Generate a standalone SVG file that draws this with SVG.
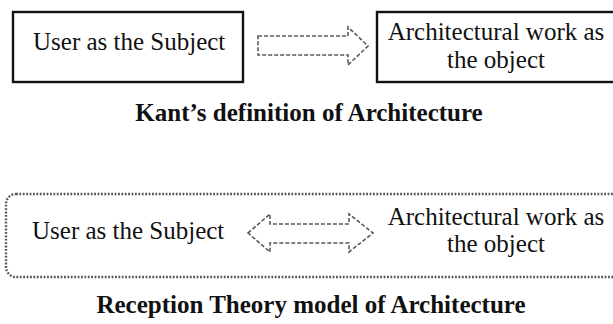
<svg xmlns="http://www.w3.org/2000/svg" width="613" height="324" viewBox="0 0 613 324">
  <style>
    text { font-family: 'Liberation Serif', 'DejaVu Serif', serif; fill: #111; }
    .lbl { font-size: 25px; }
    .mid { text-anchor: middle; }
    .ttl { font-size: 25px; font-weight: bold; text-anchor: middle; }
    .box { fill: #fff; stroke: #111; stroke-width: 2.4; }
    .dash { fill: none; stroke: #5a5a5a; stroke-width: 1.6; stroke-dasharray: 4 2; }
    .frame { fill: none; stroke: #555; stroke-width: 2.4; stroke-dasharray: 1.8 1.6; }
  </style>
  <rect width="613" height="324" fill="#fff"/>

  <!-- Upper model: subject acts on object -->
  <g id="kant-subject">
    <rect class="box" x="13" y="12" width="230" height="70"/>
    <text class="lbl" x="33" y="50">User as the Subject</text>
  </g>
  <g id="kant-object">
    <rect class="box" x="377" y="12" width="240" height="70"/>
    <text class="lbl mid" x="496" y="40">Architectural work as</text>
    <text class="lbl mid" x="496" y="68">the object</text>
  </g>
  <g id="kant-title">
    <text class="ttl" x="309" y="121">Kant’s definition of Architecture</text>
  </g>

  <!-- Lower model: frame enclosing both ends -->
  <g id="reception-frame">
    <rect class="frame" x="6" y="194" width="620" height="83" rx="10" ry="10"/>
  </g>
  <g id="reception-subject">
    <text class="lbl" x="32" y="239">User as the Subject</text>
  </g>
  <g id="reception-object">
    <text class="lbl mid" x="496" y="225">Architectural work as</text>
    <text class="lbl mid" x="496" y="252">the object</text>
  </g>
  <g id="reception-title">
    <text class="ttl" x="311" y="313">Reception Theory model of Architecture</text>
  </g>

  <!-- Connectors: block arrows drawn as dashed outlines -->
  <g id="connectors">
    <polygon class="dash" points="258,36 348,36 348,27 368,46 348,65 348,55 258,55"/>
    <polygon class="dash" points="248,233 270,214 270,224 349,224 349,214 373,233 349,252 349,243 270,243 270,252"/>
  </g>
</svg>
